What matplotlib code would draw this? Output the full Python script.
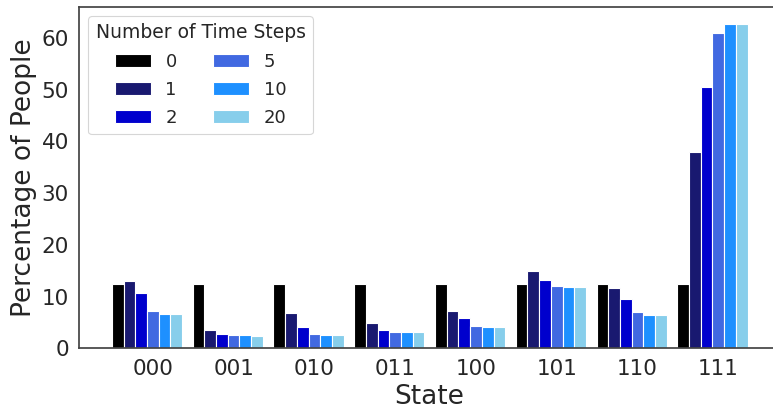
import matplotlib
matplotlib.use("Agg")
import matplotlib.pyplot as plt
import numpy as np

states = ["000", "001", "010", "011", "100", "101", "110", "111"]
time_steps = ["0", "1", "2", "5", "10", "20"]
colors = ["black", "midnightblue", "mediumblue", "royalblue", "dodgerblue", "skyblue"]

step_0 = [12.5, 12.5, 12.5, 12.5, 12.5, 12.5, 12.5, 12.5]
step_1 = [13.08, 3.54, 6.77, 4.84, 7.16, 14.96, 11.67, 37.86]
step_2 = [10.64, 2.83, 4.06, 3.48, 5.81, 13.22, 9.48, 50.44]
step_5 = [7.22, 2.52, 2.71, 3.15, 4.32, 12.00, 6.97, 61.02]
step_10 = [6.64, 2.52, 2.57, 3.15, 4.06, 11.80, 6.44, 62.76]
step_20 = [6.64, 2.44, 2.57, 3.15, 4.06, 11.80, 6.44, 62.76]
series = [step_0, step_1, step_2, step_5, step_10, step_20]

text_color = "#262626"
plt.rcParams.update({
    "font.family": "DejaVu Sans",
    "text.color": text_color,
    "axes.labelcolor": text_color,
    "xtick.color": text_color,
    "ytick.color": text_color,
})

fig = plt.figure(figsize=(7.73, 4.12), dpi=100)
ax = fig.add_axes([0.1026, 0.1546, 0.905, 0.8285])

x = np.arange(len(states))
w = 0.145
for i, (vals, lab, col) in enumerate(zip(series, time_steps, colors)):
    ax.bar(x + (i - 3) * w, vals, width=w, color=col, edgecolor="white",
           linewidth=0.8, label=lab)

ax.set_xlim(-0.91, 7.75)
ax.set_ylim(0, 66)
ax.set_xticks(x)
ax.set_xticklabels(states)
ax.set_yticks([0, 10, 20, 30, 40, 50, 60])
ax.tick_params(axis="both", which="both", length=0, labelsize=15.5, pad=7.5)
ax.set_xlabel("State", fontsize=19, labelpad=4)
ax.set_ylabel("Percentage of People", fontsize=19, labelpad=3)

for s in ["left", "bottom", "top", "right"]:
    ax.spines[s].set_color("#444444")
    ax.spines[s].set_linewidth(1.25)

leg = ax.legend(title="Number of Time Steps", ncol=2, loc="upper left",
                fontsize=13, title_fontsize=13.5, handlelength=2.0,
                handleheight=0.7, handletextpad=0.8, columnspacing=2.0,
                labelspacing=0.57, borderaxespad=0.5, frameon=True,
                fancybox=True)
leg.get_frame().set_edgecolor("#cccccc")
leg.get_frame().set_linewidth(0.8)

fig.savefig("out.png", dpi=100)
